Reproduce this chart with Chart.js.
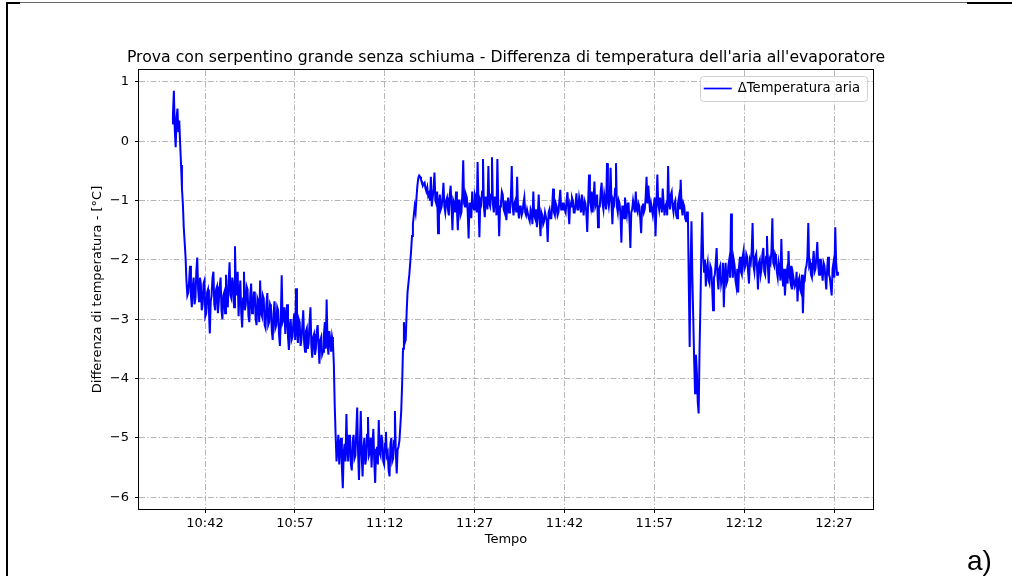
<!DOCTYPE html>
<html>
<head>
<meta charset="utf-8">
<script src="https://cdn.jsdelivr.net/npm/chart.js@4/dist/chart.umd.min.js"></script>
<style>
  html, body { margin: 0; padding: 0; background: #fff; overflow: hidden; }
  canvas { display: block; }
</style>
</head>
<body>
<canvas id="grafico" width="1012" height="576"></canvas>
<script>
// Testi
const TITOLO = "Prova con serpentino grande senza schiuma - Differenza di temperatura dell'aria all'evaporatore";
const ETICHETTA_SERIE = "ΔTemperatura aria";
const TITOLO_X = "Tempo";
const TITOLO_Y = "Differenza di temperatura - [°C]";
const SIGLA = "a)";

// Assi
const tickOrari = ["10:42", "10:57", "11:12", "11:27", "11:42", "11:57", "12:12", "12:27"];
const tickY = [-6, -5, -4, -3, -2, -1, 0, 1];
const limitiX = [630.98, 753.5];   // minuti dalla mezzanotte
const limitiY = [-6.2, 1.2];

// Campionamento: primo campione alle 10:36:30, uno ogni 9 s
const INIZIO_MIN = 10 * 60 + 36.5;
const PASSO_MIN = 0.15;

// Differenza di temperatura [°C], per fasi della prova
const avvio = [
  0.30, 0.45, 0.85, 0.20, -0.10, 0.40, 0.55, 0.15, 0.35, -0.05,
  -0.40, -0.80, -1.05, -1.45, -1.70, -1.95, -2.35, -2.60
];
const primaFase = [
  -2.55, -2.35, -2.10, -2.60, -2.80, -2.45, -2.30, -2.75, -2.65, -2.20, -1.96, -2.50, -2.70, -2.30, -2.40, -2.85,
  -2.75, -2.40, -2.35, -2.95, -2.90, -2.55, -2.50, -2.85, -3.24, -2.70, -2.60, -2.30, -2.20, -2.75, -2.85, -2.50, -2.45, -2.90,
  -2.70, -2.45, -2.30, -2.85, -3.00, -2.60, -2.55, -2.90, -2.25, -2.70, -2.80, -2.35, -2.04, -2.60, -2.65, -2.30, -2.40, -2.80,
  -1.77, -2.50, -2.60, -2.20, -2.95, -2.55, -2.35, -2.90, -3.14, -2.65,
  -2.20, -2.85, -2.75, -2.45, -2.50, -2.95, -3.05, -2.60, -2.40, -2.90, -2.85, -2.55,
  -2.55, -3.00, -3.10, -2.65, -2.70, -3.05, -2.35, -2.90, -2.95, -2.60, -2.65, -3.10, -3.15, -2.75,
  -2.56, -3.10, -3.05, -2.75, -2.80, -3.20, -3.35, -2.90, -2.70, -3.15, -3.10, -2.80, -2.85, -3.25, -3.45, -3.00,
  -2.26, -3.05, -3.00, -2.80, -3.25, -2.95, -2.75, -3.30, -3.52, -3.10, -3.00, -3.35,
  -3.30, -3.05, -2.90, -3.35, -2.48, -3.20, -3.40, -3.00, -3.05, -3.45, -3.35, -3.10, -2.85, -3.40,
  -3.55, -3.20, -3.15, -3.50, -3.40, -3.05, -2.80, -3.45, -3.65, -3.30, -3.25, -3.60, -3.50, -3.20, -3.10, -3.45,
  -3.75, -3.35, -3.30, -3.60, -3.55, -3.25, -3.05, -3.50, -2.67, -3.40, -3.60, -3.20, -3.35, -3.55, -3.30, -3.40
];
const caduta = [-3.75, -4.45, -4.95, -5.40];
const fondo = [
  -5.20, -4.95, -5.45, -5.10, -5.00, -5.50, -5.85, -5.25, -5.10, -5.40, -4.60, -5.20, -5.40, -4.95, -5.05, -5.45, -5.55, -5.05, -4.95, -5.35,
  -5.30, -4.90, -4.49, -5.25, -5.71, -5.10, -4.55, -5.30, -5.65, -5.15, -5.00, -5.45, -5.35, -4.95, -4.65, -5.30, -5.25, -5.00, -5.50, -5.10,
  -4.85, -5.40, -5.76, -5.20, -5.15, -5.45, -4.70, -5.25, -5.30, -4.95, -5.05, -5.40, -5.45, -5.10, -4.90, -5.30, -5.25, -5.55, -5.65, -5.10,
  -5.00, -5.40, -5.35, -5.05, -4.55, -5.25, -5.60, -5.20, -5.15, -5.05
];
const risalita = [
  -4.80, -4.55, -4.10, -3.50, -3.05, -3.40, -3.35, -2.90, -2.55, -2.40, -2.25,
  -2.05, -1.85, -1.60, -1.40, -1.25, -1.10, -1.20, -0.95, -0.75, -0.62, -0.58
];
const plateau = [
  -0.60, -0.65, -0.68, -0.75, -0.72, -0.70, -0.80, -0.85, -0.78, -0.92, -0.88, -1.00, -0.60, -1.10, -0.95, -0.80, -0.53, -1.00, -1.05, -0.85,
  -1.55, -1.05, -0.90, -1.15, -1.10, -0.95, -0.70, -1.10, -1.20, -1.00, -0.95, -1.15, -1.25, -0.90, -0.75, -1.10, -1.50, -1.00, -1.05, -1.20,
  -0.85, -1.15, -1.50, -1.00, -1.00, -1.25, -1.20, -0.90, -0.32, -1.05, -1.10, -0.90, -0.95, -1.20, -1.64, -1.05, -1.05, -1.30, -0.85, -1.10,
  -1.15, -0.90, -0.95, -1.20, -0.35, -1.05, -1.62, -1.00, -1.05, -0.85, -0.30, -1.10, -1.28, -0.95, -0.95, -1.15, -0.42, -1.05, -1.10, -0.90,
  -0.27, -1.05, -1.20, -0.95, -0.95, -1.25, -0.30, -1.05, -1.60, -1.10, -1.05, -0.85, -0.90, -1.15, -1.20, -1.00, -1.33, -1.10, -0.95, -1.20,
  -1.15, -0.95, -0.42, -1.10, -1.25, -1.05, -1.00, -1.20, -0.60, -1.15, -1.30, -1.10, -1.10, -1.25, -1.20, -1.05, -0.95, -1.20, -1.25, -1.15,
  -1.15, -1.30, -1.35, -1.15, -1.20, -1.40, -0.85, -1.25, -1.30, -1.15, -1.45, -1.25, -0.90, -1.30, -1.60, -1.20, -1.25, -1.40, -1.35, -1.20,
  -1.20, -1.35, -1.70, -1.20, -1.15, -1.30, -1.30, -1.10, -0.80, -1.20, -1.25, -1.05, -1.10, -1.25, -1.20, -1.00, -0.82, -1.15, -1.15, -1.05,
  -1.05, -1.15, -1.20, -1.00, -0.86, -1.15, -1.40, -1.05, -1.10, -0.95, -1.00, -1.20, -1.20, -1.05, -0.88, -1.15, -1.15, -0.95, -1.05, -1.20,
  -0.90, -1.10, -1.25, -1.00, -1.05, -1.20, -1.53, -1.05, -0.56, -1.00, -1.10, -0.85, -1.20, -1.00, -0.68, -1.10, -1.05, -0.90, -1.45, -1.10,
  -1.10, -0.85, -0.70, -1.05, -1.15, -0.90, -1.00, -1.15, -0.37, -1.00, -1.10, -0.95, -0.45, -1.05, -1.40, -1.00, -1.05, -0.80, -0.37, -1.10,
  -1.20, -1.00, -1.05, -1.25, -1.71, -1.10, -1.10, -1.30, -0.95, -1.15, -1.25, -1.05, -1.05, -1.35, -1.80, -1.20, -1.15, -1.00, -1.00, -1.20,
  -0.85, -1.15, -1.20, -1.05, -1.10, -1.30, -1.55, -1.10, -1.05, -1.20, -1.15, -0.95, -0.60, -1.05, -0.75, -1.00, -1.20, -1.05, -1.05, -1.25,
  -1.10, -0.95, -1.60, -1.10, -0.56, -1.05, -1.15, -0.95, -0.95, -1.20, -0.80, -1.05, -1.25, -1.10, -1.05, -1.25, -0.42, -1.05, -1.15, -0.90,
  -0.85, -1.10, -1.20, -1.05, -1.00, -1.25, -1.30, -1.05, -0.95, -1.15, -0.65, -1.10, -1.25, -1.05, -1.10, -1.30, -1.35, -1.20
];
const transitorio = [
  -1.20, -2.40, -3.47, -2.10, -1.35, -2.30, -3.00, -3.70, -4.25,
  -3.60, -3.90, -4.40, -4.59, -3.50, -2.73, -1.80, -1.20, -1.95
];
const finale = [
  -2.20, -2.00, -2.45, -2.15, -2.05, -2.35, -2.40, -2.10, -2.15, -2.45, -2.85, -2.30, -2.25, -2.05, -1.80, -2.30, -2.50, -2.15, -2.10, -2.40,
  -2.30, -2.05, -2.80, -2.25, -2.05, -2.40, -2.35, -2.10, -2.00, -2.30, -1.22, -2.05, -2.30, -2.00, -2.10, -2.35, -2.45, -2.15, -2.55, -2.10,
  -1.95, -2.20, -2.25, -1.95, -1.85, -2.15, -2.10, -1.90, -1.95, -2.20, -2.40, -2.00, -2.05, -1.85, -1.38, -2.10, -2.20, -1.95, -1.90, -2.15,
  -2.50, -2.05, -2.00, -2.25, -2.15, -1.90, -1.80, -2.20, -2.25, -1.95, -1.60, -2.10, -2.40, -2.00, -2.05, -1.85, -1.30, -2.05, -2.10, -1.90,
  -1.95, -2.20, -2.30, -2.05, -2.15, -2.35, -1.65, -2.20, -2.45, -2.15, -2.60, -2.30, -2.20, -2.40, -1.85, -2.25, -2.35, -2.10, -2.50, -2.25,
  -2.25, -2.45, -2.40, -2.20, -2.70, -2.35, -2.30, -2.50, -2.55, -2.25, -2.90, -2.40, -2.35, -2.15, -2.10, -1.95, -1.38, -2.10, -2.05, -2.25,
  -2.30, -2.05, -1.85, -2.20, -2.15, -1.95, -1.70, -2.10, -2.25, -2.00, -2.00, -2.20, -2.35, -2.05, -2.10, -2.30, -2.50, -2.15, -1.95, -2.25,
  -2.30, -2.45, -2.60, -2.15, -2.05, -2.30, -1.45, -2.05, -2.25, -2.20
];

const valori = [].concat(avvio, primaFase, caduta, fondo, risalita, plateau, transitorio, finale);
const punti = valori.map((v, i) => ({ x: INIZIO_MIN + i * PASSO_MIN, y: v }));

const FONT = "'DejaVu Sans', 'Liberation Sans', sans-serif";
const GRIGLIA = 'rgba(170,170,170,0.85)';
const TRATTEGGIO = [6, 2, 1.5, 2];

const aMinuti = s => { const [h, m] = s.split(':').map(Number); return h * 60 + m; };
const aOrario = v => {
  const t = Math.round(v);
  const h = Math.floor(t / 60), m = t % 60;
  return h + ':' + String(m).padStart(2, '0');
};

Chart.defaults.font.family = FONT;
Chart.defaults.font.size = 13;
Chart.defaults.color = '#000';

// Cornice degli assi, titolo, legenda e segni della pagina
const decorazioni = {
  id: 'decorazioni',
  afterDraw(chart) {
    const { ctx, chartArea: a } = chart;
    ctx.save();

    // cornice degli assi
    ctx.strokeStyle = '#000';
    ctx.lineWidth = 1;
    ctx.strokeRect(Math.round(a.left) - 0.5, Math.round(a.top) - 0.5,
                   Math.round(a.right - a.left) + 1, Math.round(a.bottom - a.top) + 1);

    // titolo centrato sull'area del grafico
    ctx.fillStyle = '#000';
    ctx.font = "15.7px " + FONT;
    ctx.textAlign = 'center';
    ctx.textBaseline = 'middle';
    ctx.fillText(TITOLO, (a.left + a.right) / 2, 57.5);

    // legenda in alto a destra
    const ds = chart.data.datasets[0];
    ctx.font = "13.2px " + FONT;
    const tw = ctx.measureText(ds.label).width;
    const bw = 38 + tw + 7, bh = 25;
    const bx = a.right - 6 - bw;
    const by = a.top + 6;
    ctx.beginPath();
    ctx.roundRect(Math.round(bx) + 0.5, by + 0.5, Math.round(bw), bh, 3);
    ctx.fillStyle = 'rgba(255,255,255,0.8)';
    ctx.fill();
    ctx.strokeStyle = '#d0d0d0';
    ctx.lineWidth = 1;
    ctx.stroke();
    ctx.beginPath();
    ctx.moveTo(bx + 4, by + bh / 2);
    ctx.lineTo(bx + 32, by + bh / 2);
    ctx.strokeStyle = ds.borderColor;
    ctx.lineWidth = 1.7;
    ctx.stroke();
    ctx.fillStyle = '#000';
    ctx.textAlign = 'left';
    ctx.fillText(ds.label, bx + 38, by + bh / 2 + 0.5);

    // bordo della pagina
    ctx.fillStyle = '#000';
    ctx.fillRect(6, 2, 2, 574);
    ctx.fillRect(6, 2, 14, 2);
    ctx.fillRect(967, 2, 45, 2);
    ctx.fillStyle = '#666';
    ctx.fillRect(20, 2, 947, 1);

    // sigla del pannello
    ctx.fillStyle = '#000';
    ctx.font = "28px 'Liberation Sans', sans-serif";
    ctx.textAlign = 'left';
    ctx.textBaseline = 'alphabetic';
    ctx.fillText(SIGLA, 967, 570);

    ctx.restore();
  }
};

new Chart(document.getElementById('grafico').getContext('2d'), {
  type: 'line',
  data: {
    datasets: [{
      label: ETICHETTA_SERIE,
      data: punti,
      borderColor: '#0000ff',
      borderWidth: 2,
      pointRadius: 0,
      fill: false,
      tension: 0
    }]
  },
  options: {
    responsive: false,
    animation: false,
    devicePixelRatio: 1,
    layout: { padding: { left: 86, right: 139, top: 70, bottom: 25 } },
    plugins: {
      legend: { display: false },
      tooltip: { enabled: false },
      title: { display: false }
    },
    scales: {
      x: {
        type: 'linear',
        min: limitiX[0],
        max: limitiX[1],
        afterBuildTicks: s => { s.ticks = tickOrari.map(t => ({ value: aMinuti(t) })); },
        afterFit: s => { s.height = 42; },
        ticks: { callback: v => aOrario(v), padding: 3, autoSkip: false, maxRotation: 0, color: '#000', font: { size: 13 } },
        grid: { color: GRIGLIA, lineWidth: 1, tickLength: 4, tickColor: '#000', tickWidth: 1, tickBorderDash: [] },
        border: { display: false, dash: TRATTEGGIO },
        title: { display: true, text: TITOLO_X, color: '#000', font: { size: 13 }, padding: { top: 4, bottom: 4 } }
      },
      y: {
        min: limitiY[0],
        max: limitiY[1],
        afterBuildTicks: s => { s.ticks = tickY.map(v => ({ value: v })); },
        afterFit: s => { s.width = 53; },
        ticks: { callback: v => String(v).replace('-', '\u2212'), padding: 6, color: '#000', font: { size: 13 } },
        grid: { color: GRIGLIA, lineWidth: 1, tickLength: 4, tickColor: '#000', tickWidth: 1, tickBorderDash: [] },
        border: { display: false, dash: TRATTEGGIO },
        title: { display: true, text: TITOLO_Y, color: '#000', font: { size: 13 }, padding: { top: 4, bottom: 4 } }
      }
    }
  },
  plugins: [decorazioni]
});
</script>
</body>
</html>
